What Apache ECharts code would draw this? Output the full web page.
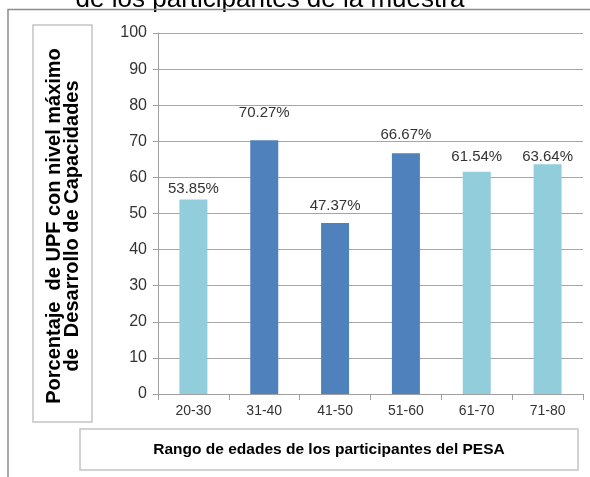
<!DOCTYPE html>
<html>
<head>
<meta charset="utf-8">
<script src="https://cdn.jsdelivr.net/npm/echarts@6/dist/echarts.min.js"></script>
<style>
  html, body { margin: 0; padding: 0; background: #ffffff; }
  #chart { width: 590px; height: 477px; }
</style>
</head>
<body>
<div id="chart"></div>
<script>
// Data
const ageRanges = ["20-30", "31-40", "41-50", "51-60", "61-70", "71-80"];
const upfPercent = [53.85, 70.27, 47.37, 66.67, 61.54, 63.64];
const yTicks = [0, 10, 20, 30, 40, 50, 60, 70, 80, 90, 100];

// Styling per bar (colour and how far the label sits above the bar)
const light = "#92cddc";
const dark = "#4f81bd";
const barColors = [light, dark, dark, dark, light, light];
const labelGap = [3, 20, 10, 11, 7, 0];

const chart = echarts.init(document.getElementById("chart"));

const option = {
    animation: false,
    backgroundColor: "#ffffff",
    grid: {
        left: 158,
        right: 7,
        top: 33,
        bottom: 83,
    },
    xAxis: {
        type: "category",
        data: ageRanges,
        axisLine: { lineStyle: { color: "#a0a0a0", width: 1 } },
        axisTick: { show: true, length: 6, lineStyle: { color: "#a0a0a0" } },
        axisLabel: {
            color: "#333333",
            fontFamily: "Liberation Sans",
            fontSize: 14,
            margin: 10,
        },
    },
    yAxis: {
        type: "value",
        min: yTicks[0],
        max: yTicks[yTicks.length - 1],
        interval: 10,
        axisLine: { show: true, lineStyle: { color: "#a0a0a0", width: 1 } },
        axisTick: { show: true, length: 5, lineStyle: { color: "#a0a0a0" } },
        axisLabel: {
            color: "#333333",
            fontFamily: "Liberation Sans",
            fontSize: 16,
            margin: 11,
        },
        splitLine: { lineStyle: { color: "#a6a6a6", width: 1 } },
    },
    series: [
        {
            type: "bar",
            barWidth: 28,
            data: upfPercent.map((v, i) => ({
                value: v,
                itemStyle: { color: barColors[i] },
                label: { distance: labelGap[i] },
            })),
            label: {
                show: true,
                position: "top",
                formatter: (p) => p.value.toFixed(2) + "%",
                color: "#333333",
                fontFamily: "Liberation Sans",
                fontSize: 15,
            },
        },
    ],
    graphic: [
        // clipped title from the page above
        {
            type: "text",
            x: 270,
            y: 0,
            style: {
                text: "de los participantes de la muestra",
                align: "center",
                verticalAlign: "middle",
                fill: "#000000",
                font: "26px 'Liberation Sans'",
            },
        },
        // outer frame
        {
            type: "polyline",
            shape: { points: [[8, 477], [8, 9.5], [590, 9.5]] },
            style: { stroke: "#8c8c8c", lineWidth: 1.5, fill: null },
        },
        // y axis title box
        {
            type: "rect",
            shape: { x: 33, y: 25, width: 59, height: 397 },
            style: { stroke: "#c4c4c4", lineWidth: 1.5, fill: "#ffffff" },
        },
        {
            type: "text",
            x: 63,
            y: 226,
            rotation: Math.PI / 2,
            style: {
                text: "Porcentaje  de UPF con nivel máximo\nde  Desarrollo de Capacidades",
                align: "center",
                verticalAlign: "middle",
                lineHeight: 18,
                fill: "#000000",
                font: "bold 20px 'Liberation Sans'",
            },
        },
        // x axis title box
        {
            type: "rect",
            shape: { x: 80, y: 429, width: 498, height: 41 },
            style: { stroke: "#c4c4c4", lineWidth: 1.5, fill: "#ffffff" },
        },
        {
            type: "text",
            x: 329,
            y: 450,
            style: {
                text: "Rango de edades de los participantes del PESA",
                align: "center",
                verticalAlign: "middle",
                fill: "#000000",
                font: "bold 15.5px 'Liberation Sans'",
            },
        },
    ],
};

chart.setOption(option);
</script>
</body>
</html>
